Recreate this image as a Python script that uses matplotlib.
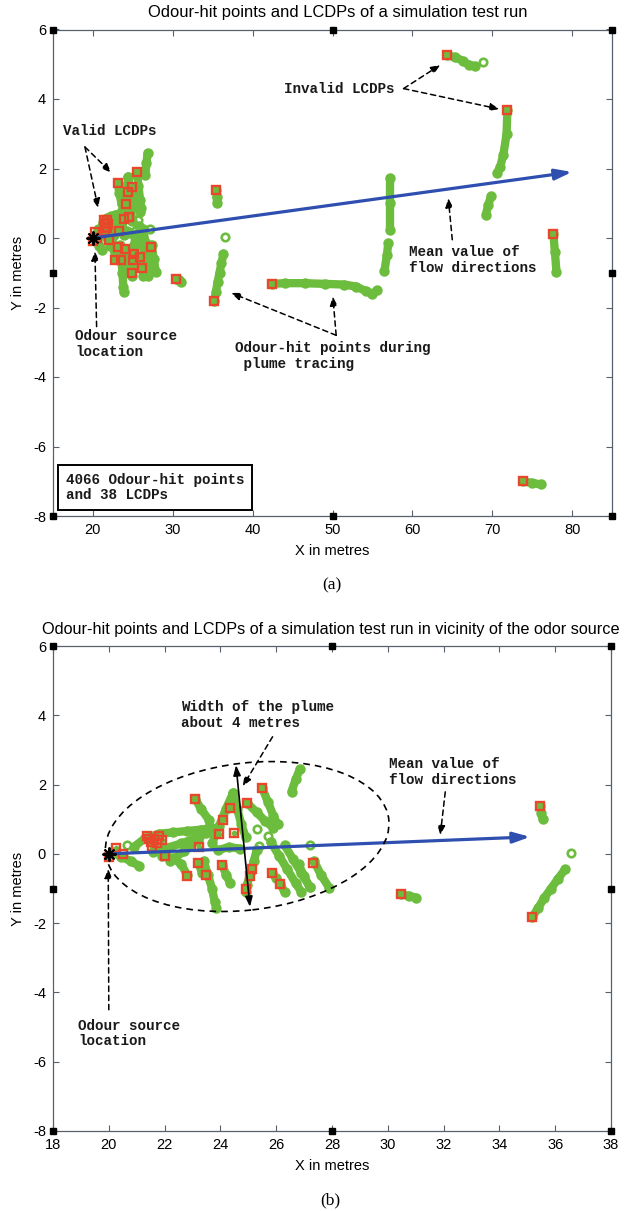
import matplotlib.pyplot as plt
from matplotlib.patches import Ellipse

plt.rcParams["font.family"] = ["Liberation Sans", "DejaVu Sans"]
plt.rcParams["axes.unicode_minus"] = False

GREEN = "#6cbd3e"
RED = "#e9472c"
BLUE = "#2f4fb0"
FRAME = "#56616c"
MONO = ["Liberation Mono", "DejaVu Sans Mono"]

# local concentration decision points (metres)
lcdp_x = [20.0, 20.25, 20.5,
          21.37, 21.5, 21.62, 21.8, 21.72, 21.55, 21.45, 21.9,
          22.0, 23.1, 23.25, 23.2, 22.8, 23.5, 23.95, 24.1, 24.36, 24.5,
          24.07, 24.95, 25.5, 25.12, 25.06, 24.92, 25.85, 26.15, 27.32,
          30.46, 35.46, 35.18, 42.46, 64.4, 71.9, 77.66, 73.9]
lcdp_y = [-0.08, 0.17, 0.01,
          0.51, 0.33, 0.42, 0.51, 0.3, 0.2, 0.42, 0.4,
          -0.07, 1.59, 0.2, -0.25, -0.64, -0.62, 0.56, 0.99, 1.33, 0.6,
          -0.32, 1.47, 1.9, -0.45, -0.64, -1.02, -0.54, -0.87, -0.25,
          -1.17, 1.38, -1.82, -1.32, 5.26, 3.69, 0.12, -7.0]

# odour-hit tracks close to the source
near_tracks = [
    [(20.1, 0.05), (20.45, -0.08), (20.8, -0.22), (21.1, -0.35)],
    [(20.9, 0.2), (21.3, 0.45), (21.8, 0.58), (22.3, 0.62), (22.8, 0.66), (23.3, 0.7), (23.7, 0.74)],
    [(21.6, 0.05), (22.1, 0.18), (22.6, 0.3), (23.1, 0.45), (23.5, 0.6)],
    [(22.2, -0.22), (22.7, 0.08), (23.2, 0.4), (23.6, 0.78)],
    [(21.9, -0.05), (22.3, -0.12), (22.6, -0.3), (22.8, -0.6)],
    [(23.1, 1.59), (23.3, 1.3), (23.6, 0.97)],
    [(23.7, 0.3), (23.95, 0.8), (24.2, 1.3), (24.45, 1.75)],
    [(24.45, 1.75), (24.6, 1.3), (24.75, 0.85), (24.9, 0.5)],
    [(24.95, 1.47), (25.3, 1.2), (25.6, 0.95), (25.9, 0.75)],
    [(25.5, 1.9), (25.7, 1.5), (25.9, 1.1), (26.05, 0.85)],
    [(26.55, 1.8), (26.7, 2.15), (26.85, 2.45)],
    [(23.4, -0.2), (23.55, -0.6), (23.7, -1.0), (23.8, -1.4), (23.85, -1.55)],
    [(23.2, -0.25), (23.35, -0.55), (23.5, -0.62)],
    [(25.3, 0.1), (25.2, -0.2), (25.1, -0.5), (24.95, -0.9), (24.9, -1.1)],
    [(25.8, 0.35), (26.1, -0.05), (26.4, -0.45), (26.7, -0.85), (26.9, -1.1)],
    [(26.3, 0.25), (26.6, -0.15), (26.9, -0.55), (27.2, -0.95)],
    [(26.8, -0.3), (27.0, -0.65), (27.2, -0.96)],
    [(27.35, -0.2), (27.6, -0.6), (27.9, -0.98)],
    [(24.07, -0.32), (24.2, -0.6), (24.35, -0.85)],
    [(23.9, 0.1), (24.3, 0.2), (24.7, 0.15)],
    [(25.85, -0.54), (26.0, -0.7), (26.15, -0.87), (26.3, -1.1)],
]

# odour-hit tracks further downwind
far_tracks = [
    [(30.46, -1.17), (30.75, -1.21), (31.0, -1.26)],
    [(35.46, 1.38), (35.5, 1.18), (35.55, 1.0)],
    [(35.18, -1.82), (35.4, -1.55), (35.6, -1.28), (35.85, -1.0), (36.1, -0.72), (36.35, -0.45)],
    [(42.46, -1.32), (44.0, -1.3), (46.5, -1.3), (49.0, -1.32), (51.5, -1.34),
     (53.0, -1.4), (54.2, -1.53), (55.0, -1.6), (55.6, -1.5)],
    [(57.2, 1.73), (57.2, 1.0), (57.2, 0.23)],
    [(57.0, -0.14), (56.8, -0.5), (56.5, -0.96)],
    [(64.4, 5.26), (65.4, 5.2), (66.3, 5.1), (67.1, 4.97), (67.8, 4.95)],
    [(71.9, 3.69), (71.8, 3.0), (71.4, 2.4), (71.0, 2.05), (70.6, 1.87)],
    [(69.85, 1.2), (69.5, 0.95), (69.2, 0.67)],
    [(77.66, 0.12), (77.85, -0.4), (78.05, -0.99)],
    [(73.9, -7.0), (75.0, -7.05), (76.1, -7.09)],
]

# isolated hits
single_x = [36.55, 68.8, 20.65, 25.3, 25.7, 25.4, 27.2]
single_y = [0.02, 5.06, 0.27, 0.72, 0.52, 0.22, 0.25]

source = (20.0, 0.0)
flow_end_a = (80.0, 1.9)
flow_end_b = (35.1, 0.49)

xticks_a = [20, 30, 40, 50, 60, 70, 80]
xticks_b = [18, 20, 22, 24, 26, 28, 30, 32, 34, 36, 38]
yticks = [-8, -6, -4, -2, 0, 2, 4, 6]

W, H = 631, 1211


def draw_hits(ax):
    for tr in near_tracks + far_tracks:
        xs = [p[0] for p in tr]
        ys = [p[1] for p in tr]
        ax.plot(xs, ys, "-", color=GREEN, lw=6.0, solid_capstyle="round",
                solid_joinstyle="round", zorder=2)
        ax.plot(xs, ys, "o", ms=5.6, mfc="none", mec=GREEN, mew=1.9, zorder=2)
    ax.plot(single_x, single_y, "o", ms=5.4, mfc="none", mec=GREEN, mew=1.9, zorder=2)
    ax.plot(lcdp_x, lcdp_y, "o", ms=3, mfc=GREEN, mec=GREEN, zorder=3)
    ax.plot(lcdp_x, lcdp_y, "s", ms=5.6, mfc="none", mec=RED, mew=1.7, zorder=4)


def flow_arrow(ax, end):
    ax.annotate("", xy=end, xytext=source, zorder=5,
                arrowprops=dict(arrowstyle="-|>,head_length=1.0,head_width=0.32",
                                color=BLUE, lw=2.3, shrinkA=0, shrinkB=0))
    ax.plot(*source, marker=(8, 2, 0), ms=10, color="k", mew=1.4, zorder=6)


def dashed_arrow(ax, tail, head):
    ax.annotate("", xy=head, xytext=tail, zorder=6,
                arrowprops=dict(arrowstyle="-|>,head_length=0.55,head_width=0.22",
                                color="k", lw=1.1, linestyle=(0, (3.5, 2.5)),
                                shrinkA=0, shrinkB=0))


def note(ax, x, y, s):
    ax.text(x, y, s, family=MONO, weight="bold", fontsize=10.3, color="#1a1a1a",
            ha="left", va="center", linespacing=1.15, zorder=7)


def style_axes(ax, xlim, xticks):
    ax.set_xlim(*xlim)
    ax.set_ylim(-8, 6)
    ax.set_xticks(xticks)
    ax.set_yticks(yticks)
    ax.set_facecolor("white")
    for sp in ax.spines.values():
        sp.set_color(FRAME)
        sp.set_linewidth(0.9)
    ax.tick_params(direction="in", length=4, width=0.8, color=FRAME,
                   top=True, right=True, labelsize=10.5, pad=5)
    ax.set_ylabel("Y in metres", fontsize=10.5, labelpad=6)
    ax.set_xlabel("X in metres", fontsize=10.5, labelpad=5)
    # figure-editor selection handles
    ax.plot([0, 0.5, 1, 0, 1, 0, 0.5, 1], [1, 1, 1, 0.5, 0.5, 0, 0, 0], "s",
            ms=3.8, color="k", transform=ax.transAxes, clip_on=False, zorder=10)


fig = plt.figure(figsize=(W / 100, H / 100), dpi=100)
fig.patch.set_facecolor("white")

# panel (a): full run
ax = fig.add_axes([53 / W, 1 - 516 / H, 559 / W, 486.5 / H])
style_axes(ax, (15, 85), xticks_a)
draw_hits(ax)
flow_arrow(ax, flow_end_a)
ax.text(0.51, 1.034, "Odour-hit points and LCDPs of a simulation test run",
        transform=ax.transAxes, ha="center", va="center", fontsize=11.9)

note(ax, 16.25, 3.08, "Valid LCDPs")
dashed_arrow(ax, (19.0, 2.62), (22.3, 1.88))
dashed_arrow(ax, (19.0, 2.62), (20.66, 0.86))
note(ax, 43.9, 4.28, "Invalid LCDPs")
dashed_arrow(ax, (58.9, 4.3), (63.5, 4.98))
dashed_arrow(ax, (58.9, 4.3), (70.9, 3.71))
note(ax, 59.6, -0.64, "Mean value of\nflow directions")
dashed_arrow(ax, (65.0, -0.05), (64.5, 1.15))
note(ax, 17.75, -3.05, "Odour source\nlocation")
dashed_arrow(ax, (20.46, -2.55), (20.25, -0.38))
note(ax, 37.75, -3.4, "Odour-hit points during\n plume tracing")
dashed_arrow(ax, (50.46, -2.8), (37.3, -1.58))
dashed_arrow(ax, (50.46, -2.8), (50.04, -1.68))
ax.text(16.6, -7.18, "4066 Odour-hit points\nand 38 LCDPs", family=MONO,
        weight="bold", fontsize=10.3, color="#1a1a1a", ha="left", va="center",
        linespacing=1.15, zorder=7,
        bbox=dict(boxstyle="square,pad=0.55", fc="white", ec="k", lw=1.4))

fig.text(332 / W, 1 - 585 / H, "(a)", family=["Liberation Serif", "DejaVu Serif"],
         fontsize=12.5, ha="center", va="center")

# panel (b): vicinity of the source
ax = fig.add_axes([53 / W, 1 - 1131 / H, 558 / W, 485 / H])
style_axes(ax, (18, 38), xticks_b)
draw_hits(ax)
flow_arrow(ax, flow_end_b)
ax.text(0.497, 1.035,
        "Odour-hit points and LCDPs of a simulation test run in vicinity of the odor source",
        transform=ax.transAxes, ha="center", va="center", fontsize=11.7)

ax.add_patch(Ellipse((24.96, 0.5), 10.2, 4.25, angle=5.1, fill=False, ec="k",
                     lw=1.2, ls=(0, (4, 3)), zorder=5))
ax.annotate("", xy=(24.56, 2.56), xytext=(25.06, -1.53), zorder=6,
            arrowprops=dict(arrowstyle="<|-|>,head_length=0.6,head_width=0.22",
                            color="k", lw=1.2, shrinkA=0, shrinkB=0))
note(ax, 22.6, 4.01, "Width of the plume\nabout 4 metres")
dashed_arrow(ax, (25.87, 3.38), (24.8, 1.95))
note(ax, 30.06, 2.37, "Mean value of\nflow directions")
dashed_arrow(ax, (32.06, 1.79), (31.88, 0.54))
note(ax, 18.9, -5.19, "Odour source\nlocation")
dashed_arrow(ax, (20.0, -4.5), (19.98, -0.43))

fig.text(330 / W, 1 - 1200 / H, "(b)", family=["Liberation Serif", "DejaVu Serif"],
         fontsize=12.5, ha="center", va="center")

fig.savefig("out.png", dpi=100)
